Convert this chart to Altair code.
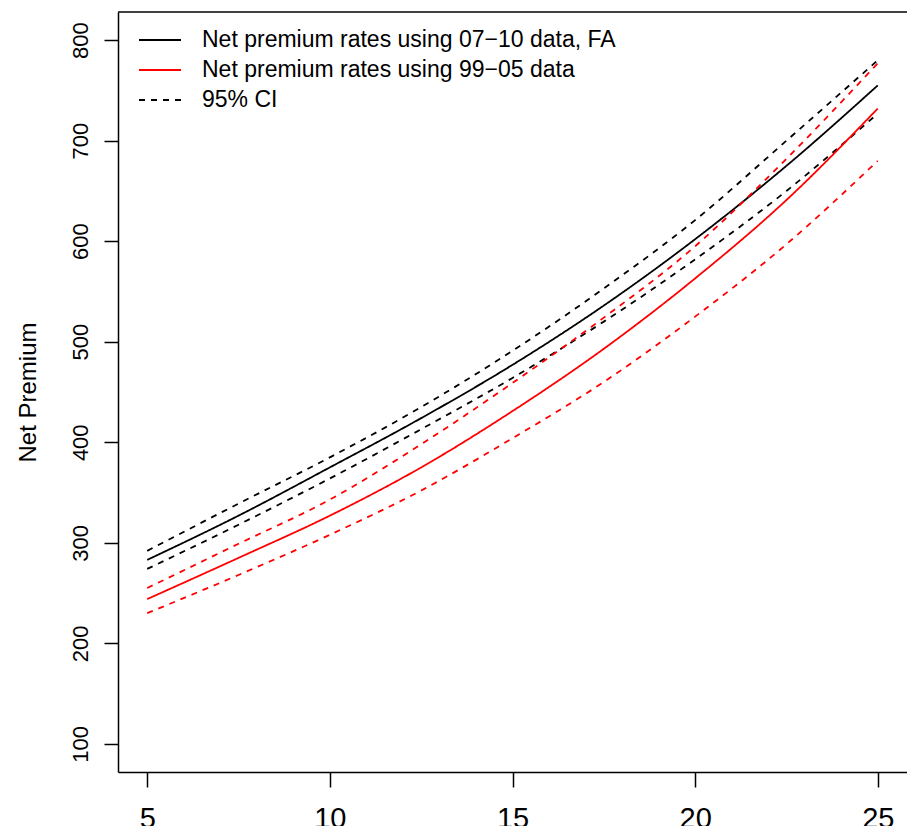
import altair as alt
import pandas as pd

# ---- data ----
ages = [5, 7.5, 10, 12.5, 15, 17.5, 20, 22.5, 25]
fa_est = [283, 327, 375, 424, 477, 536, 602, 675, 755]
fa_upper = [292, 339, 385, 435, 491, 553, 621, 700, 780]
fa_lower = [274, 318, 364, 413, 464, 520, 582, 650, 727]
old_est = [244, 285, 327, 375, 431, 493, 563, 641, 732]
old_upper = [255, 299, 343, 398, 459, 524, 595, 682, 777]
old_lower = [230, 268, 308, 352, 404, 460, 525, 597, 680]

LAB_FA = "Net premium rates using 07\u221210 data, FA"
LAB_OLD = "Net premium rates using 99\u221205 data"
LAB_CI = "95% CI"
LAB_CI_RED = "95% CI (99\u221205)"

series = [
    ("fa_est", LAB_FA, fa_est),
    ("fa_upper", LAB_CI, fa_upper),
    ("fa_lower", LAB_CI, fa_lower),
    ("old_est", LAB_OLD, old_est),
    ("old_upper", LAB_CI_RED, old_upper),
    ("old_lower", LAB_CI_RED, old_lower),
]
rows = []
for sid, lab, vals in series:
    for a, v in zip(ages, vals):
        rows.append({"id": sid, "label": lab, "age": a, "premium": v})
df = pd.DataFrame(rows)

W, H = 789, 760
FONT = "Liberation Sans"

domain = [LAB_FA, LAB_OLD, LAB_CI, LAB_CI_RED]

def make_legend():
    return alt.Legend(orient="none", legendX=20, legendY=13, title=None,
                      values=[LAB_FA, LAB_OLD, LAB_CI],
                      symbolType="stroke", symbolSize=1764,
                      symbolStrokeWidth=1.8, labelFontSize=23,
                      labelFont=FONT, labelColor="#000000",
                      labelOffset=20, rowPadding=0, clipHeight=30, padding=0,
                      labelLimit=0)

axis_common = dict(grid=False, domainColor="#000000", domainWidth=1.5,
                   tickColor="#000000", tickWidth=1.5, labelColor="#000000")

lines = alt.Chart(df).mark_line(strokeWidth=1.8, interpolate="monotone", clip=True).encode(
    x=alt.X("age:Q",
            scale=alt.Scale(domain=[4.2, 25.8], nice=False, zero=False),
            axis=alt.Axis(values=[5, 10, 15, 20, 25], title=None, tickSize=15,
                          labelFontSize=29, labelPadding=17, labelFont=FONT,
                          labelBaseline="top", labelAlign="center", **axis_common)),
    y=alt.Y("premium:Q",
            scale=alt.Scale(domain=[72, 828], nice=False, zero=False),
            axis=alt.Axis(values=[100, 200, 300, 400, 500, 600, 700, 800],
                          title="Net Premium", titleFontSize=24, titleFont=FONT,
                          titleFontWeight="normal", titleAngle=270, titleColor="#000000",
                          titleBaseline="alphabetic", titleAlign="center",
                          titleX=-83, titleY=H / 2,
                          tickSize=14, labelFontSize=22, labelFont=FONT,
                          labelAngle=270, labelAlign="center",
                          labelBaseline="alphabetic", labelPadding=17, **axis_common)),
    color=alt.Color("label:N",
                    scale=alt.Scale(domain=domain,
                                    range=["#000000", "#ff0000", "#000000", "#ff0000"]),
                    legend=make_legend()),
    strokeDash=alt.StrokeDash("label:N",
                              scale=alt.Scale(domain=domain,
                                              range=[[1, 0], [1, 0], [6, 6], [6, 6]]),
                              legend=make_legend()),
    detail="id:N",
    order="age:Q",
)

top_border = alt.Chart(pd.DataFrame({"a": [0]})).mark_rule(
    color="#000000", strokeWidth=1.5
).encode(x=alt.value(0), x2=alt.value(W), y=alt.value(0))

chart = alt.layer(lines, top_border).properties(
    width=W, height=H,
    autosize=alt.AutoSizeParams(type="none"),
    padding={"left": 118, "top": 12, "right": 0, "bottom": 54},
    background="#ffffff",
).configure_view(stroke=None)

chart.save("out.html", embed_options={"renderer": "svg", "actions": False})
